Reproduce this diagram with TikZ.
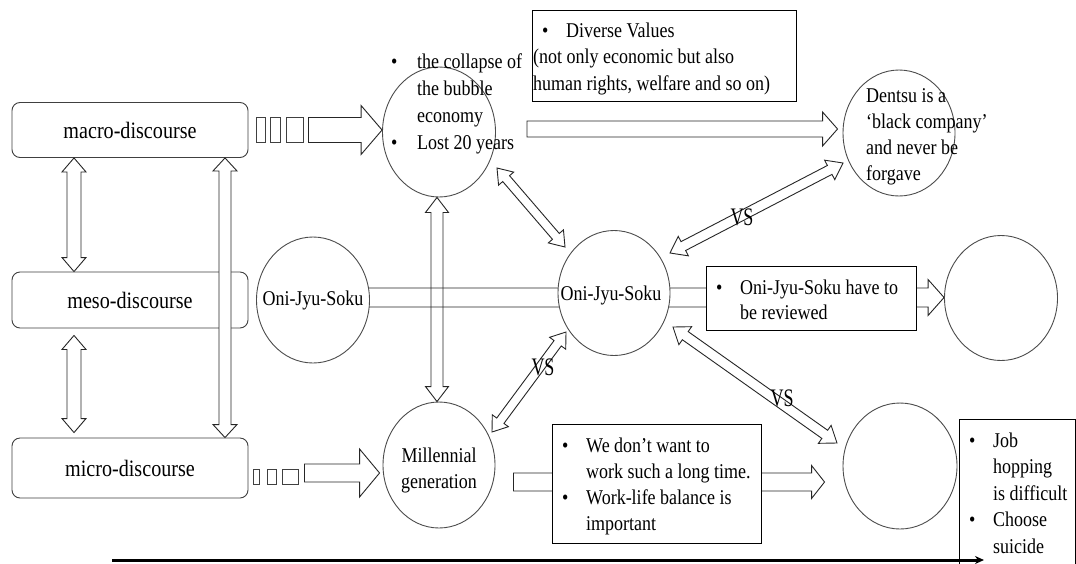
\documentclass[tikz,border=0pt]{standalone}
\usepackage{fontspec}
\setmainfont{Liberation Serif}[FakeStretch=0.857]
\usetikzlibrary{calc,shapes.geometric,arrows.meta}
\pgfdeclarelayer{paper}
\pgfdeclarelayer{under}
\pgfsetlayers{paper,under,main}

\tikzset{
  lvlbox/.style={draw=black!75, line width=0.9pt, rounded corners=8pt, fill=white,
    minimum width=236pt, inner sep=0pt, font=\fontsize{23.5}{26}\selectfont},
  sqbox/.style={draw=black!75, line width=0.9pt, fill=white, inner sep=0pt},
  ovalnode/.style={ellipse, draw=black!70, line width=0.9pt, fill=white, inner sep=0pt},
  rectbox/.style={draw=black, line width=1pt, fill=white, inner sep=0pt},
  blockarr/.style={draw=black!85, line width=0.9pt, line join=miter},
  bodytext/.style={inner sep=0pt, anchor=base west, font=\fontsize{21}{27}\selectfont},
  centertext/.style={inner sep=0pt, align=center, font=\fontsize{21}{26}\selectfont},
  vslabel/.style={inner sep=0pt, font=\fontsize{21}{22}\selectfont},
}

% bullet in a fixed-width slot, and the matching indent
\newcommand\bul[1]{\makebox[#1][l]{\fontsize{21}{21}\selectfont•}}
\newcommand\gap[1]{\hspace*{#1}}

% single block arrow: [opts]{tail}{tip}{shaft half width}{head half width}{head length}
\newcommand\sglarrow[6][]{%
  \coordinate (arrb) at ($(#3)!#6pt!(#2)$);
  \draw[blockarr,#1] ($(#2)!#4pt!90:(#3)$) -- ($(arrb)!#4pt!-90:(#2)$)
    -- ($(arrb)!#5pt!-90:(#2)$) -- (#3) -- ($(arrb)!#5pt!90:(#2)$)
    -- ($(arrb)!#4pt!90:(#2)$) -- ($(#2)!#4pt!-90:(#3)$) -- cycle;
}
% double block arrow: [opts]{tip A}{tip B}{shaft half width}{head half width}{head length}
\newcommand\dblarrow[6][]{%
  \coordinate (arra) at ($(#2)!#6pt!(#3)$);
  \coordinate (arrb) at ($(#3)!#6pt!(#2)$);
  \draw[blockarr,#1] (#2) -- ($(arra)!#5pt!90:(#3)$) -- ($(arra)!#4pt!90:(#3)$)
    -- ($(arrb)!#4pt!-90:(#2)$) -- ($(arrb)!#5pt!-90:(#2)$) -- (#3)
    -- ($(arrb)!#5pt!90:(#2)$) -- ($(arrb)!#4pt!90:(#2)$)
    -- ($(arra)!#4pt!-90:(#3)$) -- ($(arra)!#5pt!-90:(#3)$) -- cycle;
}

\begin{document}
\begin{tikzpicture}[x=1pt,y=-1pt]
\useasboundingbox (0,0) rectangle (1076,563);
\begin{pgfonlayer}{paper}
  \fill[white] (0,0) rectangle (1076,563);
\end{pgfonlayer}

% discourse levels
\node[lvlbox, minimum height=55pt] (macro) at (130,130) {macro-discourse};
\node[lvlbox, minimum height=56pt] (meso)  at (130,300) {meso-discourse};
\node[lvlbox, minimum height=60pt] (micro) at (130,468) {micro-discourse};

% small squares leading out of the macro and micro levels
\node[sqbox, minimum width=9pt,  minimum height=25pt] (mq1) at (260.5,129.5) {};
\node[sqbox, minimum width=10pt, minimum height=25pt] (mq2) at (275,129.5) {};
\node[sqbox, minimum width=17pt, minimum height=25pt] (mq3) at (294.5,129.5) {};
\node[sqbox, minimum width=6pt,  minimum height=15pt] (nq1) at (256,476.5) {};
\node[sqbox, minimum width=9pt,  minimum height=15pt] (nq2) at (271.5,476.5) {};
\node[sqbox, minimum width=16pt, minimum height=15pt] (nq3) at (290,476.5) {};

% circles
\node[ovalnode, minimum width=113pt, minimum height=130pt] (c1) at (439,132) {};
\node[ovalnode, minimum width=112pt, minimum height=126pt] (c2) at (899,133) {};
\node[ovalnode, minimum width=113pt, minimum height=126pt] (c3) at (313,300) {};
\node[ovalnode, minimum width=112pt, minimum height=125pt] (c4) at (614,293) {};
\node[ovalnode, minimum width=113pt, minimum height=125pt] (c5) at (1001,298) {};
\node[ovalnode, minimum width=112pt, minimum height=126pt] (c6) at (439,465) {};
\node[ovalnode, minimum width=114pt, minimum height=126pt] (c7) at (900,466) {};

% text frames
\node[rectbox, minimum width=264pt, minimum height=91pt]  (r1) at (664,55.5) {};
\node[rectbox, minimum width=210pt, minimum height=64pt]  (r2) at (811,298) {};
\node[rectbox, minimum width=209pt, minimum height=119pt] (r3) at (656.5,483.5) {};
\node[rectbox, minimum width=116pt, minimum height=156pt] (r4) at (1017.5,497) {};

% arrow end points
\coordinate (h1a) at ($(macro.east)+(60,0)$);
\coordinate (h1b) at (c1.west |- h1a);
\coordinate (h2a) at ($(micro.east)+(56,5)$);
\coordinate (h2b) at ($(c6.west)+(-3,8)$);
\coordinate (h3a) at ($(c1.east)+(31,-3)$);
\coordinate (h3b) at ($(c2.west)+(-5,-4)$);
\coordinate (h4a) at ($(c3)+(0,-2.5)$);
\coordinate (h4b) at (c5.west |- h4a);
\coordinate (h5a) at ($(c6.east)+(18,17)$);
\coordinate (h5b) at ($(c7.west)+(-18,16)$);

\coordinate (v1a) at ($(macro.south)+(-56,0)$);
\coordinate (v1b) at ($(meso.north)+(-56,0)$);
\coordinate (v2a) at ($(meso.south)+(-56,7)$);
\coordinate (v2b) at ($(micro.north)+(-56,-5)$);
\coordinate (v3a) at ($(macro.south)+(95,0)$);
\coordinate (v3b) at ($(micro.north)+(95,0)$);
\coordinate (v4a) at ($(c1.south)+(-2,0)$);
\coordinate (v4b) at ($(c6.north)+(-2,0)$);

\coordinate (d1a) at ($(c1)+(58,36)$);
\coordinate (d1b) at ($(c4)+(-49,-46)$);
\coordinate (d2a) at ($(c2)+(-56,30)$);
\coordinate (d2b) at ($(c4)+(56,-40)$);
\coordinate (d3a) at ($(c6)+(53,-33)$);
\coordinate (d3b) at ($(c4)+(-48,39)$);
\coordinate (d4a) at ($(c4)+(59,34)$);
\coordinate (d4b) at ($(c7)+(-63,-23)$);

% arrows running behind circles and frames
\begin{pgfonlayer}{under}
  \sglarrow{h4a}{h4b}{9.5}{18}{16}
  \sglarrow{h5a}{h5b}{9}{16.5}{13}
\end{pgfonlayer}

% horizontal block arrows
\sglarrow[fill=white]{h1a}{h1b}{12.5}{24.5}{21}
\sglarrow[fill=white]{h2a}{h2b}{9}{24}{20}
\sglarrow[fill=white]{h3a}{h3b}{8}{17}{15}

% vertical double arrows
\dblarrow[fill=white]{v1a}{v1b}{7}{12}{14}
\dblarrow[fill=white]{v2a}{v2b}{7}{12}{14}
\dblarrow[fill=white]{v3a}{v3b}{6}{12}{13}
\dblarrow{v4a}{v4b}{6}{11.5}{15}

% diagonal double arrows
\dblarrow[fill=white]{d1a}{d1b}{4.5}{10}{14}
\dblarrow[fill=white]{d2a}{d2b}{5}{11}{15}
\dblarrow[fill=white]{d3a}{d3b}{4.5}{10}{14}
\dblarrow[fill=white]{d4a}{d4b}{5}{11}{15}

% VS marks
\node[vslabel] (vs1) at (742,217) {\scalebox{1}[1.2]{VS}};
\node[vslabel] (vs2) at (543,367) {\scalebox{1}[1.2]{VS}};
\node[vslabel] (vs3) at (782,398) {\scalebox{1}[1.2]{VS}};

% texts
\node[bodytext] (bubtxt) at (391,68) {\begin{tabular}[t]{@{}l@{}}
  \bul{26pt}the collapse of\\ \gap{26pt}the bubble\\ \gap{26pt}economy\\
  \bul{26pt}Lost 20 years\end{tabular}};
\node[bodytext, font=\fontsize{21}{26.5}\selectfont] (valtxt) at (533,37) {\begin{tabular}[t]{@{}l@{}}
  \gap{9pt}\bul{24pt}Diverse Values\\ (not only economic but also\\
  human rights, welfare and so on)\end{tabular}};
\node[bodytext, font=\fontsize{21}{26}\selectfont] (dentxt) at (866,102) {\begin{tabular}[t]{@{}l@{}}
  Dentsu is a\\ ‘black company’\\ and never be\\ forgave\end{tabular}};
\node[centertext] (ojs1) at (c3) {Oni-Jyu-Soku};
\node[centertext] (ojs2) at ($(c4)+(-3,2)$) {Oni-Jyu-Soku};
\node[centertext] (milltxt) at ($(c6)+(0,5)$) {Millennial\\generation};
\node[bodytext, font=\fontsize{21}{25}\selectfont] (revtxt) at (716,294) {\begin{tabular}[t]{@{}l@{}}
  \bul{24pt}Oni-Jyu-Soku have to\\ \gap{24pt}be reviewed\end{tabular}};
\node[bodytext, font=\fontsize{21}{26}\selectfont] (worktxt) at (562,452) {\begin{tabular}[t]{@{}l@{}}
  \bul{24pt}We don’t want to\\ \gap{24pt}work such a long time.\\
  \bul{24pt}Work-life balance is\\ \gap{24pt}important\end{tabular}};
\node[bodytext, font=\fontsize{21}{26.5}\selectfont] (jobtxt) at (969,447) {\begin{tabular}[t]{@{}l@{}}
  \bul{24pt}Job\\ \gap{24pt}hopping\\ \gap{24pt}is difficult\\
  \bul{24pt}Choose\\ \gap{24pt}suicide\end{tabular}};

% time axis along the bottom
\coordinate (axisL) at (112,560);
\coordinate (axisR) at (984,560);
\draw[line width=3pt, -{Stealth[length=9pt,width=8pt]}] (axisL) -- (axisR);
\end{tikzpicture}
\end{document}
